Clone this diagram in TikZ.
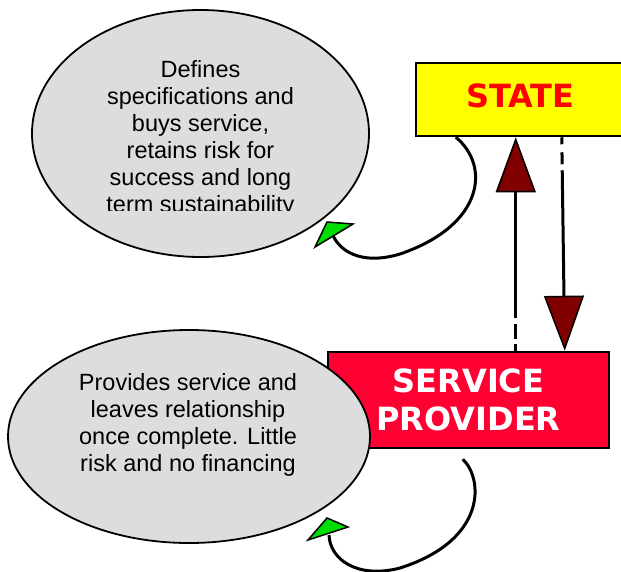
\documentclass[tikz,border=0pt]{standalone}
\usepackage{fontspec}
\setmainfont{Liberation Sans}
\newfontfamily\boxfont{DejaVu Sans}
\usetikzlibrary{shapes.geometric,arrows.meta}
\definecolor{bubblegray}{RGB}{221,221,221}
\definecolor{stateyellow}{RGB}{255,255,0}
\definecolor{statered}{RGB}{255,0,0}
\definecolor{sppink}{RGB}{255,0,51}
\definecolor{headred}{RGB}{128,0,0}
\definecolor{headgreen}{RGB}{0,221,0}
\begin{document}
\begin{tikzpicture}[x = 1pt, y = -1pt,
	bubble/.style = {ellipse, draw, fill = bubblegray, line width = 1.8pt, inner sep = 0pt},
	bubbletext/.style = {anchor = north, align = center, inner sep = 0pt, font = \fontsize{23.5}{27}\selectfont},
	party/.style = {rectangle, draw, line width = 2.5pt, align = center, inner sep = 0pt, font = \boxfont\bfseries\fontsize{32}{38}\selectfont},
	handover/.style = {line width = 3pt, -{Triangle[width = 40pt, length = 55pt, fill = headred, line width = 1.5pt]}},
	selfline/.style = {line width = 3pt},
	selfhead/.style = {draw, fill = headgreen, line width = 1.5pt, line join = miter}]
	\useasboundingbox (0,0) rectangle (621,571);
	% the two parties
	\node[party, fill = stateyellow, text = statered, minimum width = 209pt, minimum height = 73pt, text depth = 8pt] (state) at (520.5,99.5) {STATE};
	\node[party, fill = sppink, text = white, minimum width = 281pt, minimum height = 96pt] (sp) at (468.5,400) {SERVICE\\PROVIDER};
	% role bubbles
	\node[bubble, minimum width = 337pt, minimum height = 247pt] (staterole) at (200.5,133.5) {};
	\node[bubble, minimum width = 362pt, minimum height = 213pt] (sprole) at (189,436.5) {};
	\begin{scope}
		\clip (0,0) rectangle (621,210); % last line is cut off
		\node[bubbletext] (statetext) at (200.5,60) {Defines\\specifications and\\buys service,\\retains risk for\\success and long\\term sustainability};
	\end{scope}
	\node[bubbletext] (sptext) at (188,373) {Provides service and\\leaves relationship\\once complete. Little\\risk and no financing};
	% arrows between the boxes
	\coordinate (up0) at ([xshift = 189pt]sp.north west);
	\coordinate (up1) at (up0 |- state.south);
	\coordinate (down0) at ([xshift = 147pt]state.south west);
	\coordinate (down1) at ([xshift = 238pt]sp.north west);
	\draw[handover, dash pattern = on 7pt off 5pt on 15pt off 6pt on 400pt] (up0) -- (up1);
	\draw[handover, dash pattern = on 7pt off 8pt on 12pt off 6pt on 400pt] (down0) -- (down1);
	% curved arrows back to the bubbles
	\coordinate (s0) at ([xshift = 41pt]state.south west);
	\coordinate (s1) at (332,233);
	\draw[selfline] (s0) .. controls (490,165) and (485,225) .. (400,254) .. controls (360,266) and (338,250) .. (s1);
	\filldraw[selfhead] (315,247) -- (327,222) -- (353,224) -- cycle;
	\coordinate (p0) at ([xshift = 136pt, yshift = -10pt]sp.south west);
	\coordinate (p1) at (329,535);
	\draw[selfline] (p0) .. controls (483,478) and (488,540) .. (400,568) .. controls (358,579) and (330,560) .. (p1);
	\filldraw[selfhead] (308,540) -- (327,518) -- (348,527) -- cycle;
\end{tikzpicture}
\end{document}
